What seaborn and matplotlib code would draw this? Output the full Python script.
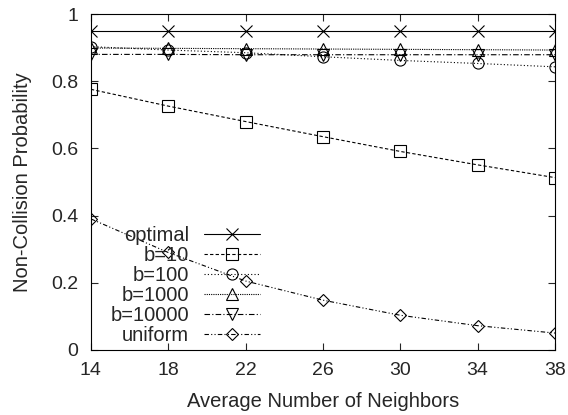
import matplotlib
matplotlib.use("Agg")
import matplotlib.pyplot as plt
import seaborn as sns
import pandas as pd

neighbors = [14, 18, 22, 26, 30, 34, 38]
optimal = [0.95, 0.95, 0.95, 0.95, 0.95, 0.95, 0.95]
b10 = [0.776, 0.726, 0.680, 0.635, 0.591, 0.551, 0.513]
b100 = [0.903, 0.893, 0.885, 0.873, 0.862, 0.853, 0.843]
b1000 = [0.899, 0.898, 0.897, 0.896, 0.895, 0.894, 0.893]
b10000 = [0.880, 0.880, 0.879, 0.879, 0.879, 0.879, 0.879]
uniform = [0.390, 0.290, 0.205, 0.148, 0.103, 0.072, 0.050]
yticks = [0, 0.2, 0.4, 0.6, 0.8, 1]
ytick_labels = ["0", "0.2", "0.4", "0.6", "0.8", "1"]

series = [
    ("optimal", optimal, "x", "-"),
    ("b=10", b10, "s", (0, (3, 2))),
    ("b=100", b100, "o", (0, (1, 2))),
    ("b=1000", b1000, "^", (0, (1, 1))),
    ("b=10000", b10000, "v", (0, (5, 2, 1, 2))),
    ("uniform", uniform, "D", (0, (4, 2, 1, 2, 1, 2))),
]

sns.set_style("ticks")
plt.rcParams["font.family"] = ["Liberation Sans", "DejaVu Sans"]

fig = plt.figure(figsize=(5.68, 4.15), dpi=100)
ax = fig.add_axes([0.160, 0.157, 0.817, 0.809])

for name, vals, mk, ls in series:
    df = pd.DataFrame({"x": neighbors, "y": vals})
    sns.lineplot(data=df, x="x", y="y", ax=ax, color="black", linewidth=0.8,
                 marker=mk, markersize=8 if mk != "D" else 6,
                 markerfacecolor="none", markeredgecolor="black",
                 markeredgewidth=0.8, label=name)
    ax.lines[-1].set_linestyle(ls)

ax.set_xlim(14, 38)
ax.set_ylim(0, 1)
ax.set_xticks(neighbors)
ax.set_yticks(yticks)
ax.set_yticklabels(ytick_labels)
ax.tick_params(direction="in", top=True, right=True, labelsize=14, length=5, pad=9, width=0.8)
for s in ax.spines.values():
    s.set_linewidth(0.8)
    s.set_color("black")
ax.set_xlabel("Average Number of Neighbors", fontsize=14.5, labelpad=9)
ax.set_ylabel("Non-Collision Probability", fontsize=14.5, labelpad=14)

leg = ax.legend(loc="lower right", bbox_to_anchor=(0.364, 0.015), frameon=False,
                markerfirst=False, fontsize=14.5, handlelength=2.75,
                labelspacing=0.05, handletextpad=0.75, borderaxespad=0, borderpad=0)

fig.savefig("out.png", dpi=100)
